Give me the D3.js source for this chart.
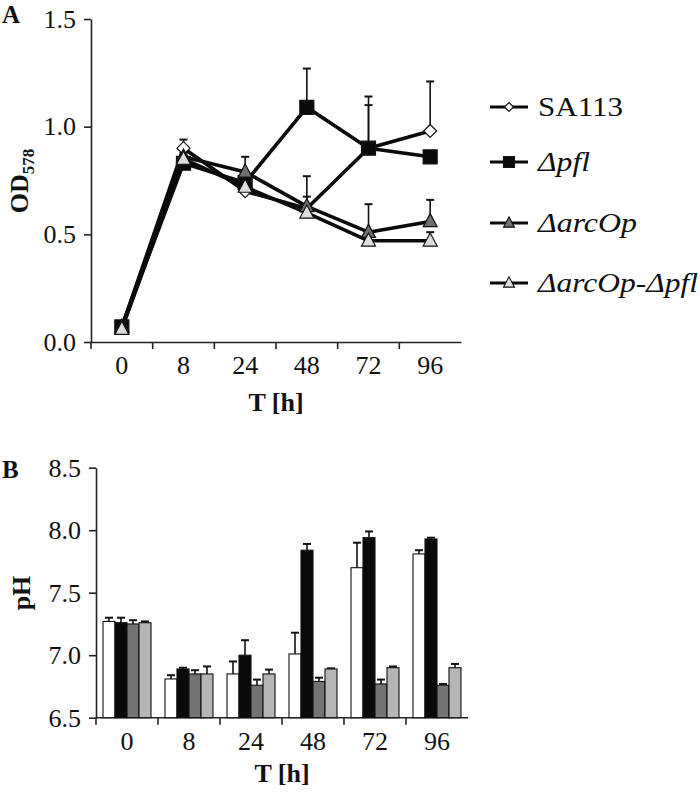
<!DOCTYPE html>
<html>
<head>
<meta charset="utf-8">
<script src="https://cdn.jsdelivr.net/npm/d3@7"></script>
<style>
  body { margin: 0; background: #fff; }
  svg { display: block; }
  text { font-family: "Liberation Serif", "Times New Roman", serif; fill: #111; }
</style>
</head>
<body>
<svg id="chart" width="700" height="792"></svg>
<script>
// ---------- data ----------
const times = ["0", "8", "24", "48", "72", "96"];
const strains = ["SA113", "Δpfl", "ΔarcOp", "ΔarcOp-Δpfl"];

// Panel A: OD578
const odSA113 = [0.07, 0.90, 0.70, 0.62, 0.90, 0.98];
const odSA113Err = [0.01, 0.04, 0.02, 0.15, 0.20, 0.23];
const odPfl = [0.07, 0.83, 0.74, 1.09, 0.90, 0.86];
const odPflErr = [0.01, 0.03, 0.05, 0.18, 0.24, 0.00];
const odArc = [0.07, 0.86, 0.79, 0.63, 0.51, 0.56];
const odArcErr = [0.00, 0.02, 0.07, 0.045, 0.13, 0.10];
const odDouble = [0.06, 0.85, 0.72, 0.60, 0.47, 0.47];
const odDoubleErr = [0.00, 0.02, 0.02, 0.03, 0.03, 0.04];
const odTicks = [0.0, 0.5, 1.0, 1.5];

// Panel B: pH
const phSA113 = [7.27, 6.81, 6.85, 7.01, 7.70, 7.81];
const phSA113Err = [0.03, 0.03, 0.10, 0.17, 0.20, 0.03];
const phPfl = [7.26, 6.89, 7.00, 7.84, 7.94, 7.93];
const phPflErr = [0.04, 0.01, 0.12, 0.05, 0.05, 0.01];
const phArc = [7.25, 6.85, 6.76, 6.79, 6.77, 6.76];
const phArcErr = [0.03, 0.03, 0.045, 0.03, 0.035, 0.01];
const phDouble = [7.26, 6.85, 6.85, 6.89, 6.90, 6.90];
const phDoubleErr = [0.01, 0.06, 0.035, 0.005, 0.01, 0.03];
const phTicks = [6.5, 7.0, 7.5, 8.0, 8.5];

const markerShapes = ["diamond", "square", "triangle", "triangle"];
const markerFills = ["#ffffff", "#0a0a0a", "#6f6f6f", "#dedede"];
const barFills = ["#ffffff", "#0a0a0a", "#737373", "#b5b5b5"];
const legendWidths = [85, 52, 99, 160];

const odSeries = [
  { name: strains[0], v: odSA113, e: odSA113Err },
  { name: strains[1], v: odPfl, e: odPflErr },
  { name: strains[2], v: odArc, e: odArcErr },
  { name: strains[3], v: odDouble, e: odDoubleErr }
];
const phSeries = [
  { name: strains[0], v: phSA113, e: phSA113Err },
  { name: strains[1], v: phPfl, e: phPflErr },
  { name: strains[2], v: phArc, e: phArcErr },
  { name: strains[3], v: phDouble, e: phDoubleErr }
];

const svg = d3.select("#chart");
const FONT = 26;

function markerPath(shape, s) {
  const h = s / 2;
  if (shape === "diamond") return `M0,${-h}L${h},0L0,${h}L${-h},0Z`;
  if (shape === "square") return `M${-h},${-h}H${h}V${h}H${-h}Z`;
  const t = s * 0.9;
  return `M0,${-t * 0.62}L${h},${t * 0.42}L${-h},${t * 0.42}Z`;
}

function styleAxis(g) {
  g.selectAll("path.domain").attr("stroke", "#222").attr("stroke-width", 1.6);
  g.selectAll(".tick line").attr("stroke", "#222").attr("stroke-width", 1.6);
  g.selectAll("text").attr("font-size", FONT).attr("font-family", "Liberation Serif").attr("fill", "#111");
}

// ================= Panel A =================
const xA = d3.scaleBand().domain(times).range([91, 461]).padding(0);
const yA = d3.scaleLinear().domain([0, 1.5]).range([342, 19]);

const axAy = svg.append("g").attr("transform", "translate(91,0)")
  .call(d3.axisLeft(yA).tickValues(odTicks).tickFormat(d3.format(".1f")).tickSize(7).tickSizeOuter(0).tickPadding(8));
styleAxis(axAy);

const axAx = svg.append("g").attr("transform", "translate(0,342)")
  .call(d3.axisBottom(xA).tickSize(0).tickSizeOuter(0).tickPadding(14));
styleAxis(axAx);
axAx.selectAll(".tick text").attr("dy", "0.71em");
axAx.selectAll("line.bnd").data(times).join("line").attr("class", "bnd")
  .attr("x1", d => xA(d)).attr("x2", d => xA(d)).attr("y1", 0).attr("y2", 7)
  .attr("stroke", "#222").attr("stroke-width", 1.6);

svg.append("text").attr("x", 276).attr("y", 411).attr("text-anchor", "middle")
  .attr("font-size", FONT).attr("font-weight", "bold").text("T [h]");

const odLab = svg.append("text").attr("transform", "translate(28,181) rotate(-90)")
  .attr("text-anchor", "middle").attr("font-size", 26).attr("font-weight", "bold");
odLab.append("tspan").text("OD");
odLab.append("tspan").attr("font-size", 17).attr("dy", 6).text("578");

svg.append("text").attr("x", 2).attr("y", 23).attr("font-size", 25).attr("font-weight", "bold").text("A");

const cx = i => xA(times[i]) + xA.bandwidth() / 2;
const lineA = d3.line().x((d, i) => cx(i)).y(d => yA(d));

odSeries.forEach(s => {
  svg.append("path").attr("d", lineA(s.v)).attr("fill", "none")
    .attr("stroke", "#0a0a0a").attr("stroke-width", 3.6).attr("stroke-linejoin", "round");
});
odSeries.forEach(s => {
  s.v.forEach((v, i) => {
    if (s.e[i] <= 0.005) return;
    const x = cx(i), y0 = yA(v), y1 = yA(v + s.e[i]);
    svg.append("line").attr("x1", x).attr("x2", x).attr("y1", y0).attr("y2", y1)
      .attr("stroke", "#111").attr("stroke-width", 1.6);
    svg.append("line").attr("x1", x - 4).attr("x2", x + 4).attr("y1", y1).attr("y2", y1)
      .attr("stroke", "#111").attr("stroke-width", 2);
  });
});
odSeries.forEach((s, k) => {
  svg.append("g").selectAll("path").data(s.v).join("path")
    .attr("transform", (d, i) => `translate(${cx(i)},${yA(d)})`)
    .attr("d", markerPath(markerShapes[k], k === 0 ? 13 : 14))
    .attr("fill", markerFills[k]).attr("stroke", "#111").attr("stroke-width", 1.2);
});

// legend
const legY = [107, 162, 223, 283];
strains.forEach((name, k) => {
  const g = svg.append("g").attr("transform", `translate(509,${legY[k]})`);
  g.append("line").attr("x1", -19).attr("x2", 19).attr("y1", 0).attr("y2", 0)
    .attr("stroke", "#0a0a0a").attr("stroke-width", 3);
  g.append("path").attr("d", markerPath(markerShapes[k], k === 0 ? 9 : 11))
    .attr("fill", markerFills[k]).attr("stroke", "#111").attr("stroke-width", 1.1);
  const t = g.append("text").attr("x", 29).attr("y", 9).attr("font-size", 28)
    .attr("textLength", legendWidths[k]).attr("lengthAdjust", "spacingAndGlyphs");
  if (k === 0) t.text(name);
  else t.attr("font-style", "italic").text(name);
});

// ================= Panel B =================
const xB = d3.scaleBand().domain(times).range([96, 468]).paddingInner(0.226).paddingOuter(0.113);
const xInner = d3.scaleBand().domain(strains).range([0, xB.bandwidth()]).padding(0);
const yB = d3.scaleLinear().domain([6.5, 8.5]).range([717.7, 467.7]);

const axBy = svg.append("g").attr("transform", "translate(96,0)")
  .call(d3.axisLeft(yB).tickValues(phTicks).tickFormat(d3.format(".1f")).tickSize(7).tickSizeOuter(0).tickPadding(8));
styleAxis(axBy);

const axBx = svg.append("g").attr("transform", "translate(0,717.7)")
  .call(d3.axisBottom(xB).tickSize(0).tickSizeOuter(0).tickPadding(14));
styleAxis(axBx);
axBx.selectAll(".tick text").attr("dy", "0.71em");
axBx.select("path.domain").attr("d", "M96,0H468");
const stepB = xB.step();
axBx.selectAll("line.bnd").data(times).join("line").attr("class", "bnd")
  .attr("x1", (d, i) => 96 + i * stepB).attr("x2", (d, i) => 96 + i * stepB).attr("y1", 0).attr("y2", 7)
  .attr("stroke", "#222").attr("stroke-width", 1.6);

svg.append("text").attr("x", 282).attr("y", 782).attr("text-anchor", "middle")
  .attr("font-size", FONT).attr("font-weight", "bold").text("T [h]");
svg.append("text").attr("transform", "translate(30,593) rotate(-90)").attr("text-anchor", "middle")
  .attr("font-size", 26).attr("font-weight", "bold").text("pH");
svg.append("text").attr("x", 2).attr("y", 478).attr("font-size", 25).attr("font-weight", "bold").text("B");

phSeries.forEach((s, k) => {
  s.v.forEach((v, i) => {
    const x = xB(times[i]) + xInner(s.name);
    const w = xInner.bandwidth();
    if (s.e[i] > 0.004) {
      const xm = x + w / 2, y1 = yB(v + s.e[i]);
      svg.append("line").attr("x1", xm).attr("x2", xm).attr("y1", yB(v)).attr("y2", y1)
        .attr("stroke", "#111").attr("stroke-width", 1.6);
      svg.append("line").attr("x1", xm - 4).attr("x2", xm + 4).attr("y1", y1).attr("y2", y1)
        .attr("stroke", "#111").attr("stroke-width", 2);
    }
    svg.append("rect").attr("x", x).attr("y", yB(v)).attr("width", w).attr("height", yB(6.5) - yB(v))
      .attr("fill", barFills[k]).attr("stroke", "#111").attr("stroke-width", 1.1);
  });
});
</script>
</body>
</html>
